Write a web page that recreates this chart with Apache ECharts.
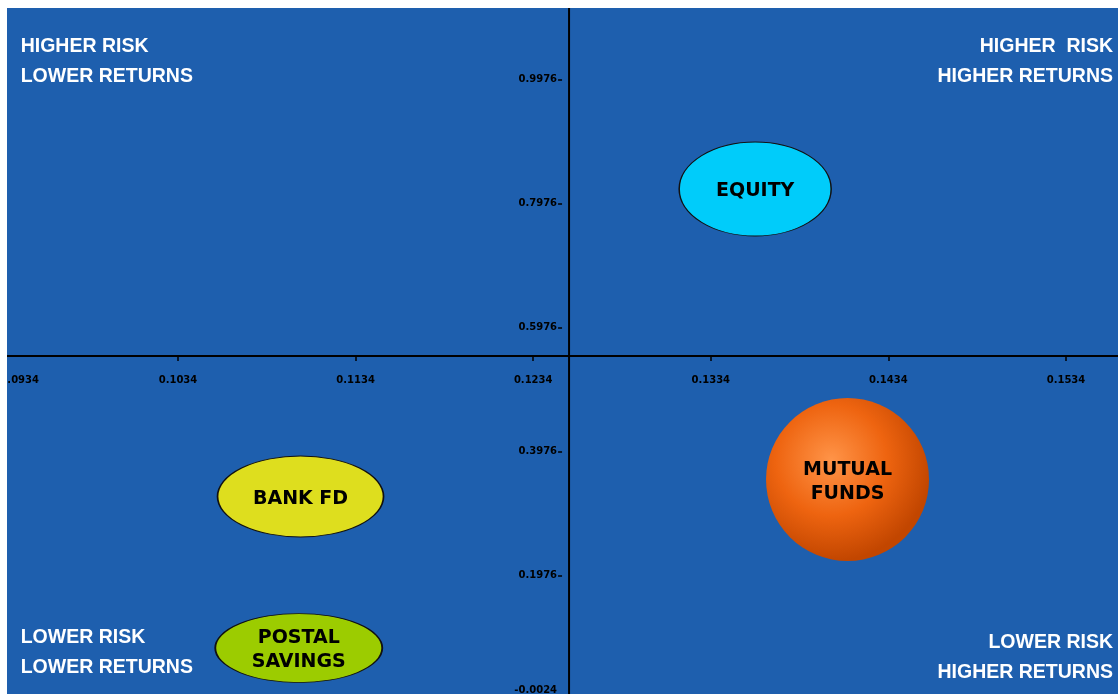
<!DOCTYPE html>
<html><head><meta charset="utf-8">
<script src="https://cdn.jsdelivr.net/npm/echarts@6/dist/echarts.min.js"></script>
<style>
html,body{margin:0;padding:0;background:#fff;width:1118px;height:694px;overflow:hidden}
#wrap{position:absolute;left:7px;top:8px;width:1111px;height:686px;overflow:hidden;background:#1e5fae}
#chart{position:absolute;left:-60px;top:0;width:1171px;height:700px}
</style></head><body>
<div id="wrap"><div id="chart"></div></div>
<script>
// ---- data ----
const assetNames = ['EQUITY', 'MUTUAL\nFUNDS', 'BANK FD', 'POSTAL\nSAVINGS'];
const returnValues = [0.1359, 0.1411, 0.1103, 0.1102];   // x axis
const riskValues = [0.8207, 0.3521, 0.3247, 0.0803];     // y axis
const xTicks = [0.0934, 0.1034, 0.1134, 0.1234, 0.1334, 0.1434, 0.1534];
const yTicks = [-0.0024, 0.1976, 0.3976, 0.5976, 0.7976, 0.9976];
const xMin = 0.0934, xMax = 0.15633;
const yMin = -0.0024, yMax = 1.1126;
const crossX = 0.12542, crossY = 0.5513;
const quadrantTexts = ['HIGHER RISK\nLOWER RETURNS', 'HIGHER  RISK\nHIGHER RETURNS', 'LOWER RISK\nLOWER RETURNS', 'LOWER RISK\nHIGHER RETURNS'];

// ---- styles ----
const bubbleSizes = [[152, 94], [163, 163], [166, 81], [167, 69]];
const bubbleColors = [
  '#00ccfa',
  {type: 'radial', x: 0.4, y: 0.38, r: 0.62, colorStops: [
    {offset: 0, color: '#ff9448'}, {offset: 0.55, color: '#ee6410'}, {offset: 1, color: '#c24600'}]},
  '#dede1e',
  '#9ccc00'
];
const bubbleBorders = [1.2, 0, 1.2, 1.2];

const chart = echarts.init(document.getElementById('chart'), null, {renderer: 'canvas'});
const GL = 53.4, GB = 8.7, H = 700;
const tickFont = {fontFamily: 'DejaVu Sans', fontWeight: 'bold', fontSize: 10, color: '#000'};
const qFont = 'bold 19.5px "Liberation Sans", Arial, sans-serif';
const axisLineStyle = {color: '#000', width: 2};

function buildOption(crossPx) {
  const grids = [{left: GL, right: 0, top: 0, bottom: GB, containLabel: false}];
  const xAxes = [{type: 'value', min: xMin, max: xMax, gridIndex: 0, show: false}];
  const yAxes = [{type: 'value', min: yMin, max: yMax, gridIndex: 0, show: false}];
  if (crossPx) {
    // grid whose bottom edge sits on the horizontal crossing line -> carries the x tick labels
    grids.push({left: GL, right: 0, top: 0, height: crossPx[1], containLabel: false});
    xAxes.push({
      type: 'value', min: xMin, max: xMax, gridIndex: 1, position: 'bottom',
      splitLine: {show: false},
      axisLine: {show: false, onZero: false},
      axisTick: {show: true, length: 5, customValues: xTicks, lineStyle: {color: '#000', width: 1.5}},
      axisLabel: Object.assign({margin: 19, customValues: xTicks, alignMinLabel: 'left',
        formatter: v => v.toFixed(4)}, tickFont)
    });
    yAxes.push({type: 'value', min: yMin, max: yMax, gridIndex: 1, show: false});
    // grid whose left edge sits just left of the vertical crossing line -> carries the y tick labels
    grids.push({left: crossPx[0] - 7, right: 0, top: 0, bottom: GB, containLabel: false});
    xAxes.push({type: 'value', min: xMin, max: xMax, gridIndex: 2, show: false});
    yAxes.push({
      type: 'value', min: yMin, max: yMax, gridIndex: 2, position: 'left',
      splitLine: {show: false},
      axisLine: {show: false, onZero: false},
      axisTick: {show: true, length: 4, customValues: yTicks, lineStyle: {color: '#000', width: 1.5}},
      axisLabel: Object.assign({margin: 5, customValues: yTicks,
        formatter: v => Math.abs(v - yTicks[0]) < 1e-9 ? '{m|' + v.toFixed(4) + '}' : v.toFixed(4),
        rich: {m: Object.assign({padding: [0, 0, 18, 0]}, tickFont)}}, tickFont)
    });
  }
  return {
    animation: false,
    grid: grids, xAxis: xAxes, yAxis: yAxes,
    graphic: [
      {type: 'text', x: 73.7, y: 54, style: {text: quadrantTexts[0], font: qFont, fill: '#fff', align: 'left', verticalAlign: 'middle', lineHeight: 30}},
      {type: 'text', x: 1166, y: 54, style: {text: quadrantTexts[1], font: qFont, fill: '#fff', align: 'right', verticalAlign: 'middle', lineHeight: 30}},
      {type: 'text', x: 73.7, y: 644.3, style: {text: quadrantTexts[2], font: qFont, fill: '#fff', align: 'left', verticalAlign: 'middle', lineHeight: 30}},
      {type: 'text', x: 1166, y: 649.5, style: {text: quadrantTexts[3], font: qFont, fill: '#fff', align: 'right', verticalAlign: 'middle', lineHeight: 30}}
    ],
    series: [
      {
        type: 'line', data: [[crossX, yMin], [crossX, yMax]],
        showSymbol: false, silent: true, lineStyle: axisLineStyle, z: 1
      },
      {
        type: 'line', data: [[xMin, crossY], [xMax, crossY]],
        showSymbol: false, silent: true, lineStyle: axisLineStyle, z: 1
      },
      {
        type: 'scatter', z: 3,
        data: assetNames.map((n, i) => ({
          value: [returnValues[i], riskValues[i]], name: n,
          symbolSize: bubbleSizes[i],
          itemStyle: {color: bubbleColors[i], borderColor: '#111', borderWidth: bubbleBorders[i], opacity: 1}
        })),
        symbol: 'circle',
        label: {show: true, position: 'inside', offset: [0, 2.5], formatter: p => p.name,
          fontFamily: 'DejaVu Sans', fontWeight: 'bold', fontSize: 19, lineHeight: 24, color: '#000'},
        emphasis: {disabled: true}
      }
    ]
  };
}

chart.setOption(buildOption(null));
const p = chart.convertToPixel({gridIndex: 0}, [crossX, crossY]);
chart.setOption(buildOption(p), true);
</script>
</body></html>
